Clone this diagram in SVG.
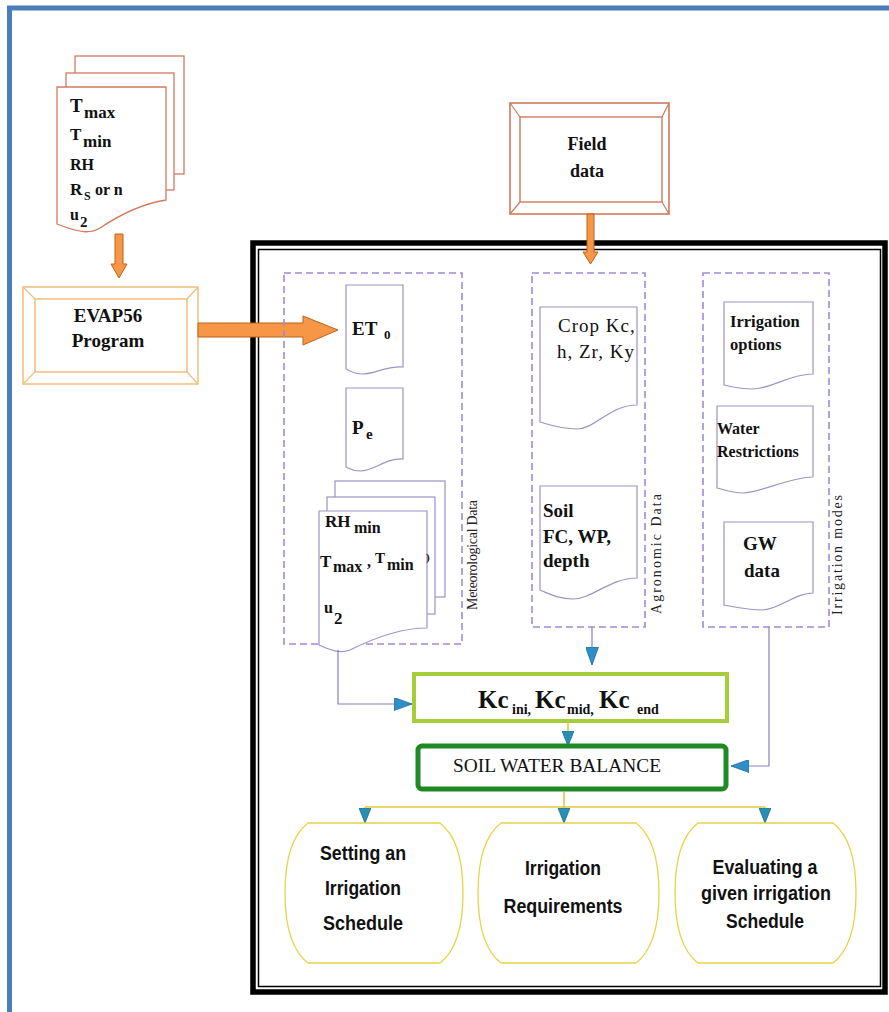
<svg xmlns="http://www.w3.org/2000/svg" width="889" height="1012" viewBox="0 0 889 1012">
<defs>
<style>
.doc{fill:#fff;stroke:#9d92c6;stroke-width:1.2}
.sheet{fill:#fff;stroke:#d27a5c;stroke-width:1.3}
.grp{fill:none;stroke:#a08ad8;stroke-width:1.6;stroke-dasharray:7 4}
.tb{font-family:"Liberation Serif","Times New Roman",serif;font-weight:bold;fill:#111}
.tr{font-family:"Liberation Serif","Times New Roman",serif;fill:#111}
.ts{font-family:"Liberation Sans",Arial,sans-serif;font-weight:bold;fill:#111;font-size:20px;text-anchor:middle}
.lbl{font-family:"Liberation Serif","Times New Roman",serif;font-size:14px;fill:#222;text-anchor:middle}
.oarrow{fill:#f79646;stroke:#b8651b;stroke-width:1}
.pl{fill:none;stroke:#8c7fc0;stroke-width:1.2}
.yl{fill:none;stroke:#e6c640;stroke-width:1.6}
.oval{fill:#fff;stroke:#e8d24a;stroke-width:1.3}
</style>
<marker id="ah" viewBox="0 0 18 13" refX="18" refY="6.5" markerWidth="18" markerHeight="13" markerUnits="userSpaceOnUse" orient="auto">
<path d="M0,0 L18,6.5 L0,13 Z" fill="#2f8fc7" stroke="#1d6f9c" stroke-width="0.8"/>
</marker>
<marker id="ahs" viewBox="0 0 15 12" refX="15" refY="6" markerWidth="15" markerHeight="12" markerUnits="userSpaceOnUse" orient="auto">
<path d="M0,0 L15,6 L0,12 Z" fill="#2a8fb5" stroke="#1d6f8c" stroke-width="0.8"/>
</marker>
</defs>
<rect width="889" height="1012" fill="#fff"/>
<!-- blue frame -->
<path d="M9.5,1012 V8 H889" fill="none" stroke="#4a7ebb" stroke-width="5"/>
<!-- main black frame -->
<g id="frame">
<rect x="253" y="243" width="632" height="749" fill="none" stroke="#000" stroke-width="5.5"/>
<rect x="258.5" y="249.5" width="622" height="737" fill="none" stroke="#000" stroke-width="1.5"/>
</g>

<g id="weather-input">
<rect class="sheet" x="75" y="56" width="109" height="118"/>
<rect class="sheet" x="66" y="73" width="108" height="117"/>
<path class="sheet" d="M57,87 H166 V200 C140,204 115,218 100,228 C90,234 80,233 57,224 Z"/>
<text class="tb" x="70" y="112" font-size="19">T</text><text class="tb" x="84" y="118" font-size="17">max</text>
<text class="tb" x="70" y="140" font-size="17">T</text><text class="tb" x="83" y="147" font-size="17">min</text>
<text class="tb" x="70" y="170" font-size="16">RH</text>
<text class="tb" x="70" y="195" font-size="17">R</text><text class="tb" x="84" y="200" font-size="12">S</text><text class="tb" x="95" y="195" font-size="16">or n</text>
<text class="tb" x="70" y="220" font-size="16">u</text><text class="tb" x="80" y="227" font-size="15">2</text>
</g>

<g id="evap56">
<rect x="23" y="287" width="175" height="97" fill="#fff" stroke="#f0bf7c" stroke-width="1.5"/>
<rect x="35" y="299" width="152" height="73" fill="none" stroke="#f0bf7c" stroke-width="1.5"/>
<path d="M23,287 L35,299 M198,287 L187,299 M23,384 L35,372 M198,384 L187,372" stroke="#f0bf7c" stroke-width="1.2"/>
<text class="tb" x="108" y="322" font-size="19" text-anchor="middle">EVAP56</text>
<text class="tb" x="108" y="347" font-size="19" text-anchor="middle">Program</text>
</g>

<g id="field-data">
<rect x="510" y="103" width="159" height="111" fill="#fff" stroke="#cd7b5c" stroke-width="1.6"/>
<rect x="520" y="117" width="142" height="85" fill="none" stroke="#cd7b5c" stroke-width="1.4"/>
<path d="M510,103 L520,117 M669,103 L662,117 M510,214 L520,202 M669,214 L662,202" stroke="#cd7b5c" stroke-width="1.2"/>
<text class="tb" x="587" y="150" font-size="18" text-anchor="middle">Field</text>
<text class="tb" x="587" y="177" font-size="18" text-anchor="middle">data</text>
</g>

<g id="orange-arrows">
<path class="oarrow" d="M115,234 H123 V264 H127 L119,278 L111,264 H115 Z"/>
<path class="oarrow" d="M587,214 H594 V252 H598 L590.5,264 L583,252 H587 Z"/>
<path class="oarrow" d="M198,323 H303 V316 L338,330 L303,345 V337 H198 Z"/>
</g>

<g id="meteorological-data">
<rect class="grp" x="284" y="273" width="178" height="371"/>
<text class="lbl" transform="translate(477,555) rotate(-90)" textLength="110" lengthAdjust="spacing">Meteorological Data</text>
</g>
<g id="et0">
<path class="doc" d="M346,285 H403 V367 C385,366 375,374 362,374 C354,374 350,371 346,369 Z"/>
<text class="tb" x="352" y="335" font-size="19">ET</text><text class="tb" x="384" y="339" font-size="13">0</text>
</g>
<g id="pe">
<path class="doc" d="M346,388 H403 V459 C385,458 375,471 360,471 C353,471 350,469 346,467 Z"/>
<text class="tb" x="352" y="434" font-size="19">P</text><text class="tb" x="366" y="439" font-size="15">e</text>
</g>
<g id="rh-stack">
<rect class="doc" x="335" y="481" width="110" height="116"/>
<rect class="doc" x="327" y="497" width="108" height="117"/>
<path class="doc" d="M319,511 H427 V628 C400,628 370,640 350,650 C340,654 330,650 319,645 Z"/>
<text class="tb" x="325" y="527" font-size="17">RH</text><text class="tb" x="354" y="533" font-size="16">min</text>
<text class="tb" x="320" y="567" font-size="17">T</text><text class="tb" x="333" y="572" font-size="16">max</text>
<text class="tb" x="367" y="567" font-size="16">,</text><text class="tb" x="375" y="563" font-size="15">T</text><text class="tb" x="387" y="570" font-size="16">min</text><text class="tb" x="426" y="561" font-size="11">)</text>
<text class="tb" x="324" y="613" font-size="16">u</text><text class="tb" x="334" y="624" font-size="17">2</text>
</g>

<g id="agronomic-data">
<rect class="grp" x="532" y="273" width="113" height="354"/>
<text class="lbl" transform="translate(661,554) rotate(-90)" textLength="120" lengthAdjust="spacing">Agronomic Data</text>
</g>
<g id="crop">
<path class="doc" d="M540,307 H637 V405 C610,405 595,429 577,429 C560,429 550,425 540,422 Z"/>
<text class="tr" x="558" y="332" font-size="19" letter-spacing="1">Crop Kc,</text>
<text class="tr" x="557" y="358" font-size="19" letter-spacing="1">h, Zr, Ky</text>
</g>
<g id="soil">
<path class="doc" d="M540,486 H637 V578 C610,578 592,599 573,599 C558,599 550,594 540,590 Z"/>
<text class="tb" x="543" y="517" font-size="19">Soil</text>
<text class="tb" x="543" y="543" font-size="19">FC, WP,</text>
<text class="tb" x="543" y="567" font-size="19">depth</text>
</g>

<g id="irrigation-modes">
<rect class="grp" x="703" y="273" width="126" height="354"/>
<text class="lbl" transform="translate(842,555) rotate(-90)" textLength="120" lengthAdjust="spacing">Irrigation modes</text>
</g>
<g id="irrigation-options">
<path class="doc" d="M724,302 H813 V374 C790,374 770,389 753,389 C740,389 732,387 724,385 Z"/>
<text class="tb" x="730" y="327" font-size="16.5">Irrigation</text>
<text class="tb" x="730" y="350" font-size="16.5">options</text>
</g>
<g id="water-restrictions">
<path class="doc" d="M717,406 H813 V477 C790,477 760,493 743,493 C732,493 725,490 717,488 Z"/>
<text class="tb" x="717" y="434" font-size="16">Water</text>
<text class="tb" x="717" y="457" font-size="16">Restrictions</text>
</g>
<g id="gw-data">
<path class="doc" d="M724,522 H813 V593 C795,593 778,610 763,610 C748,610 735,607 724,605 Z"/>
<text class="tb" x="743" y="550" font-size="19">GW</text>
<text class="tb" x="744" y="577" font-size="19">data</text>
</g>

<g id="connectors">
<path class="pl" d="M592,627 V665" marker-end="url(#ah)"/>
<path class="pl" d="M338,650 V704 H412" marker-end="url(#ah)"/>
<path class="pl" d="M769,627 V766 H731" marker-end="url(#ah)"/>
<path class="yl" d="M568,723 V746" marker-end="url(#ahs)"/>
<path class="yl" d="M564,792 V807 M365,807 H765"/>
<path class="yl" d="M365,807 V823" marker-end="url(#ahs)"/>
<path class="yl" d="M564,807 V823" marker-end="url(#ahs)"/>
<path class="yl" d="M765,807 V823" marker-end="url(#ahs)"/>
</g>

<g id="kc">
<rect x="414" y="674" width="313" height="47" fill="#fff" stroke="#a4cf3a" stroke-width="4"/>
<text class="tb" x="478" y="708" font-size="25">Kc</text>
<text class="tb" x="512" y="714" font-size="14">ini,</text>
<text class="tb" x="535" y="708" font-size="25">Kc</text>
<text class="tb" x="567" y="714" font-size="14">mid,</text>
<text class="tb" x="599" y="708" font-size="25">Kc</text>
<text class="tb" x="637" y="714" font-size="14">end</text>
</g>

<g id="soil-water-balance">
<rect x="418" y="746" width="308" height="43" rx="4" fill="#fff" stroke="#1f8a23" stroke-width="5"/>
<text class="tr" x="453" y="772" font-size="19" textLength="208" lengthAdjust="spacingAndGlyphs">SOIL WATER BALANCE</text>
</g>

<g id="setting-schedule">
<path class="oval" d="M308,823 H440 C457,836 463,860 463,893 C463,926 457,950 440,963 H308 C291,950 285,926 285,893 C285,860 291,836 308,823 Z"/>
<text class="ts" x="363" y="860" textLength="86" lengthAdjust="spacingAndGlyphs">Setting an</text>
<text class="ts" x="363" y="895" textLength="76" lengthAdjust="spacingAndGlyphs">Irrigation</text>
<text class="ts" x="363" y="930" textLength="80" lengthAdjust="spacingAndGlyphs">Schedule</text>
</g>
<g id="irrigation-requirements">
<path class="oval" d="M501,823 H636 C653,836 659,860 659,893 C659,926 653,950 636,963 H501 C484,950 478,926 478,893 C478,860 484,836 501,823 Z"/>
<text class="ts" x="563" y="875" textLength="76" lengthAdjust="spacingAndGlyphs">Irrigation</text>
<text class="ts" x="563" y="913" textLength="119" lengthAdjust="spacingAndGlyphs">Requirements</text>
</g>
<g id="evaluating-schedule">
<path class="oval" d="M698,823 H833 C850,836 856,860 856,893 C856,926 850,950 833,963 H698 C681,950 675,926 675,893 C675,860 681,836 698,823 Z"/>
<text class="ts" x="765" y="874" textLength="105" lengthAdjust="spacingAndGlyphs">Evaluating a</text>
<text class="ts" x="766" y="900" textLength="130" lengthAdjust="spacingAndGlyphs">given irrigation</text>
<text class="ts" x="765" y="928" textLength="78" lengthAdjust="spacingAndGlyphs">Schedule</text>
</g>
</svg>
